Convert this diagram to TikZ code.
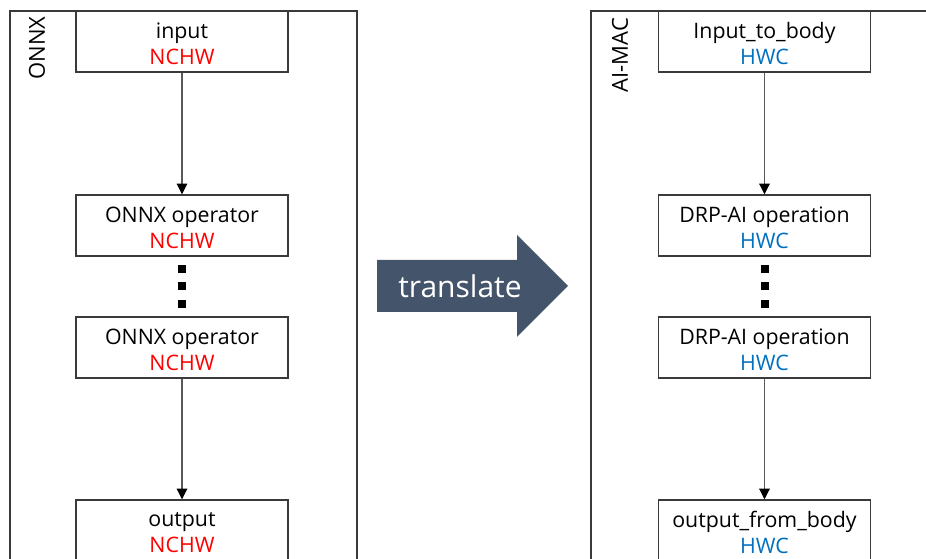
\documentclass[tikz,border=0pt]{standalone}
\usepackage{fontspec}
\setmainfont{Open Sans}
\usetikzlibrary{arrows.meta}
\definecolor{frameline}{HTML}{3A3A3A}
\definecolor{connline}{HTML}{595959}
\definecolor{ncred}{HTML}{FF0000}
\definecolor{hwblue}{HTML}{0070C0}
\definecolor{arrowfill}{HTML}{44546A}
\begin{document}
\begin{tikzpicture}[x=0.75pt,y=-0.75pt,
  frame/.style={draw=frameline,line width=1.1pt},
  box/.style={draw=frameline,line width=1.1pt,fill=white,minimum width=159pt,minimum height=45.75pt,inner sep=0pt},
  boxtext/.style={inner sep=0pt,align=center,font=\fontsize{16}{19.5}\selectfont,yshift=-1.5pt},
  conn/.style={draw=connline,line width=0.8pt,-{Triangle[length=8pt,width=8pt,fill=black,color=black]}},
  dotsq/.style={fill=black,minimum size=6pt,inner sep=0pt},
  sidelabel/.style={rotate=90,font=\fontsize{16.5}{18}\selectfont,inner sep=0pt}]
\useasboundingbox (0,0) rectangle (926,559);
\clip (0,0) rectangle (926,559);
% frames
\draw[frame] (10,11) rectangle (357,620);
\draw[frame] (591,11) rectangle (980,620);
\node[sidelabel] (lonnx) at (37,48) {ONNX};
\node[sidelabel] (laimac) at (620,55) {AI-MAC};
% left column
\node[box] (lin) at (182,41.5) {};
\node[boxtext] (linT) at (lin.center) {input\\\textcolor{ncred}{NCHW}};
\node[box] (lop1) at (182,225.5) {};
\node[boxtext] (lop1T) at (lop1.center) {ONNX operator\\\textcolor{ncred}{NCHW}};
\node[box] (lop2) at (182,347.5) {};
\node[boxtext] (lop2T) at (lop2.center) {ONNX operator\\\textcolor{ncred}{NCHW}};
\node[box] (lout) at (182,530.5) {};
\node[boxtext] (loutT) at (lout.center) {output\\\textcolor{ncred}{NCHW}};
\node[dotsq] (ld1) at (182,269) {};
\node[dotsq] (ld2) at (182,286.5) {};
\node[dotsq] (ld3) at (182,304) {};
\draw[conn] (lin) -- (lop1);
\draw[conn] (lop2) -- (lout);
% right column
\node[box] (rin) at (764.5,41.5) {};
\node[boxtext] (rinT) at (rin.center) {Input\_to\_body\\\textcolor{hwblue}{HWC}};
\node[box] (rop1) at (764.5,225.5) {};
\node[boxtext] (rop1T) at (rop1.center) {DRP-AI operation\\\textcolor{hwblue}{HWC}};
\node[box] (rop2) at (764.5,347.5) {};
\node[boxtext] (rop2T) at (rop2.center) {DRP-AI operation\\\textcolor{hwblue}{HWC}};
\node[box] (rout) at (764.5,530.5) {};
\node[boxtext] (routT) at (rout.center) {output\_from\_body\\\textcolor{hwblue}{HWC}};
\node[dotsq] (rd1) at (764.5,269) {};
\node[dotsq] (rd2) at (764.5,286.5) {};
\node[dotsq] (rd3) at (764.5,304) {};
\draw[conn] (rin) -- (rop1);
\draw[conn] (rop2) -- (rout);
% translate arrow
\fill[arrowfill] (377,260) -- (517,260) -- (517,235) -- (568,286) -- (517,337) -- (517,312) -- (377,312) -- cycle;
\node[text=white,font=\fontsize{22.5}{24}\selectfont,inner sep=0pt] (tr) at (460,286) {translate};
\end{tikzpicture}
\end{document}
